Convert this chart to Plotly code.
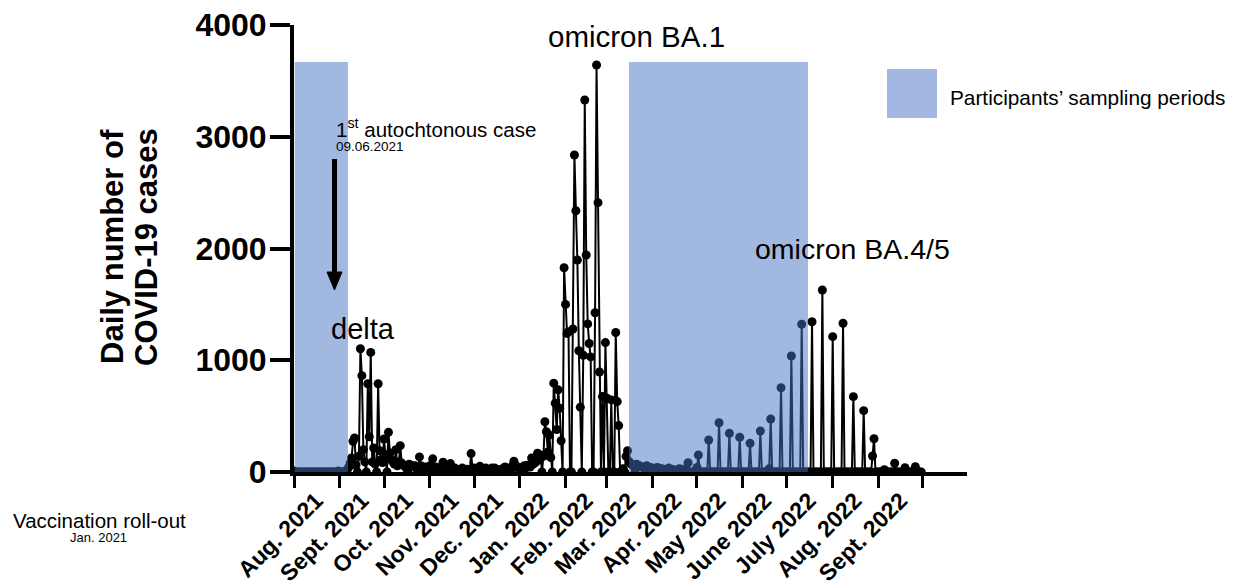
import pandas as pd
import plotly.graph_objects as go

# ---------------- data (daily reported cases) ----------------
start_date = "2021-08-01"
aug_2021 = [10, 0, 0, 0, 0, 0, 0, 0, 0, 0, 0, 0, 0, 0, 0, 0, 0, 0, 0, 0, 0, 0, 0, 0, 0, 0, 0, 0, 0, 0, 10]
sep_2021 = [0, 0, 0, 0, 10, 20, 40, 80, 125, 275, 305, 60, 0, 140, 1103, 862, 200, 90, 0, 790,
            315, 1070, 90, 215, 70, 0, 790, 190, 110, 85]
oct_2021 = [295, 140, 0, 355, 170, 110, 90, 70, 200, 55, 90, 236, 80, 60, 55, 35, 0, 70, 60, 55,
            45, 55, 35, 0, 135, 55, 45, 35, 45, 25, 0]
nov_2021 = [55, 45, 118, 35, 45, 25, 0, 35, 45, 88, 35, 25, 20, 0, 75, 35, 25, 35, 25, 20,
            0, 25, 35, 25, 20, 25, 20, 0, 165, 25]
dec_2021 = [35, 25, 25, 20, 52, 25, 20, 25, 35, 25, 20, 0, 35, 25, 35, 25, 20, 20, 0, 25,
            35, 45, 35, 25, 0, 20, 55, 96, 60, 50, 35]
jan_2022 = [25, 0, 45, 55, 35, 60, 50, 45, 126, 70, 80, 90, 168, 110, 152, 0, 140, 450, 360, 180,
            330, 130, 0, 795, 615, 380, 735, 570, 280, 0, 1828]
feb_2022 = [1500, 1240, 1255, 0, 0, 1280, 2837, 2338, 1897, 1085, 580, 0, 1045, 3329, 1942, 1325,
            1150, 1030, 0, 0, 1425, 3642, 2410, 895, 0, 675, 0, 1158]
mar_2022 = [660, 0, 0, 645, 0, 0, 1248, 630, 415, 0, 0, 30, 0, 140, 190, 95, 75, 65, 55, 0,
            70, 60, 55, 50, 45, 40, 0, 55, 45, 40, 35]
apr_2022 = [35, 30, 0, 40, 35, 30, 30, 25, 0, 0, 30, 35, 25, 25, 20, 0, 0, 0, 30, 25,
            20, 25, 20, 0, 83, 0, 0, 0, 0, 0]
may_2022 = [40, 152, 0, 0, 0, 0, 0, 0, 286, 0, 0, 0, 0, 0, 0, 441, 0, 0, 0, 0,
            0, 0, 346, 0, 0, 0, 0, 0, 0, 311, 0]
jun_2022 = [0, 0, 0, 0, 0, 257, 0, 0, 0, 0, 0, 0, 367, 0, 0, 0, 0, 0, 30, 474,
            0, 0, 0, 0, 0, 0, 754, 0, 0, 0]
jul_2022 = [0, 0, 0, 1038, 0, 0, 0, 0, 0, 0, 1322, 0, 0, 0, 0, 0, 0, 1345, 0, 0,
            0, 0, 0, 0, 1629, 0, 0, 0, 0, 0, 0]
aug_2022 = [1211, 0, 0, 0, 0, 0, 0, 1331, 0, 0, 0, 0, 0, 0, 674, 0, 0, 0, 0, 0,
            0, 549, 0, 0, 0, 0, 0, 143, 298, 0, 0]
sep_2022 = [0, 0, 0, 0, 20, 0, 0, 0, 0, 0, 0, 78, 0, 0, 0, 0, 0, 0, 38, 0,
            0, 0, 0, 0, 0, 47, 0, 0, 0, 0]

month_starts = ["2021-08-01", "2021-09-01", "2021-10-01", "2021-11-01", "2021-12-01",
                "2022-01-01", "2022-02-01", "2022-03-01", "2022-04-01", "2022-05-01",
                "2022-06-01", "2022-07-01", "2022-08-01", "2022-09-01", "2022-10-01"]
label_dates = ["2021-08-16", "2021-09-16", "2021-10-16", "2021-11-16", "2021-12-16",
               "2022-01-16", "2022-02-15", "2022-03-16", "2022-04-16", "2022-05-16",
               "2022-06-16", "2022-07-16", "2022-08-16", "2022-09-16"]
tick_labels = ["Aug. 2021", "Sept. 2021", "Oct. 2021", "Nov. 2021", "Dec. 2021", "Jan. 2022",
               "Feb. 2022", "Mar. 2022", "Apr. 2022", "May 2022", "June 2022", "July 2022",
               "Aug. 2022", "Sept. 2022"]
y_ticks = [0, 1000, 2000, 3000, 4000]
sampling_periods = [("2021-08-01 12:00", "2021-09-06 14:00"), ("2022-03-16 00:00", "2022-07-15 06:00")]
band_top = 3670

values = (aug_2021 + sep_2021 + oct_2021 + nov_2021 + dec_2021 + jan_2022 + feb_2022 + mar_2022
          + apr_2022 + may_2022 + jun_2022 + jul_2022 + aug_2022 + sep_2022)
dates = pd.date_range(start_date, periods=len(values), freq="D")

# ---------------- layout geometry ----------------
# the page body keeps its default 8px margin, so the figure is drawn 8px in from the window corner
OFF = 8
W, H = 1234 - OFF, 581 - OFF
L, R, T, B = 286, 267, 17, 109
PW, PH = W - L - R, H - T - B
FONT = "Liberation Sans, Arial, Helvetica, sans-serif"


def px(x):  # window pixel -> paper x
    return (x - OFF - L) / PW


def py(y):  # window pixel -> paper y
    return (H - B - (y - OFF)) / PH


fig = go.Figure()
fig.add_trace(go.Scatter(
    x=dates, y=values, mode="lines+markers",
    line=dict(color="black", width=2),
    marker=dict(color="black", size=9),
    showlegend=False, hoverinfo="x+y",
))

for x0, x1 in sampling_periods:
    fig.add_shape(type="rect", xref="x", yref="y", x0=x0, x1=x1, y0=0, y1=band_top,
                  fillcolor="rgba(68,114,196,0.5)", line=dict(width=0), layer="above")

# legend square
fig.add_shape(type="rect", xref="paper", yref="paper", x0=px(887), x1=px(937), y0=py(118), y1=py(69),
              fillcolor="#A2B8E2", line=dict(width=0))

# arrow for the first autochthonous case
fig.add_shape(type="line", xref="paper", yref="paper", x0=px(334.5), x1=px(334.5), y0=py(159), y1=py(276),
              line=dict(color="black", width=5))
fig.add_shape(type="path", xref="paper", yref="paper",
              path=f"M {px(327)} {py(272)} L {px(342)} {py(272)} L {px(334.5)} {py(290)} Z",
              fillcolor="black", line=dict(color="black", width=1))

ann = []


def text(t, x, y, size, xanchor="center", yanchor="middle", bold=False, angle=0):
    ann.append(dict(text=t, xref="paper", yref="paper", x=px(x), y=py(y), showarrow=False,
                    xanchor=xanchor, yanchor=yanchor, textangle=angle,
                    font=dict(family=FONT, size=size, color="black", weight="bold" if bold else "normal")))


text("omicron BA.1", 636, 36, 29.5)
text("omicron BA.4/5", 852, 249, 28.5)
text("delta", 363, 329, 29)
text("1<sup>st</sup> autochtonous case", 334, 128, 20.5, xanchor="left")
text("09.06.2021", 334, 146, 13.5, xanchor="left")
text("Vaccination roll-out", 11, 520, 20.5, xanchor="left")
text("Jan. 2021", 68, 537, 13, xanchor="left")
text("Participants’ sampling periods", 948, 97, 20.8, xanchor="left")
text("Daily number of", 113, 247, 31, bold=True, angle=-90)
text("COVID-19 cases", 147, 247, 31, bold=True, angle=-90)

fig.update_layout(
    width=W, height=H,
    margin=dict(l=L, r=R, t=T, b=B, autoexpand=False),
    paper_bgcolor="white", plot_bgcolor="white",
    font=dict(family=FONT, color="black"),
    annotations=ann,
    xaxis=dict(
        type="date", range=["2021-08-01", "2022-10-31"], automargin=False,
        showline=True, linewidth=4, linecolor="black",
        showgrid=False, zeroline=False,
        tickmode="array", tickvals=label_dates, ticktext=tick_labels,
        ticks="", tickangle=-45, ticklabelstandoff=2, ticklabeloverflow="allow",
        tickfont=dict(family=FONT, size=23, color="black", weight="bold"),
        minor=dict(tickmode="array", tickvals=month_starts, ticks="outside", ticklen=12,
                   tickwidth=3, tickcolor="black", showgrid=False),
    ),
    yaxis=dict(
        range=[0, 4000], tickmode="array", tickvals=y_ticks, automargin=False,
        showline=True, linewidth=4, linecolor="black",
        showgrid=False, zeroline=False, ticklabeloverflow="allow", ticklabelstandoff=-3,
        ticks="outside", ticklen=20, tickwidth=4, tickcolor="black",
        tickfont=dict(family=FONT, size=32, color="black", weight="bold"),
    ),
)

fig.write_html("out.html")
